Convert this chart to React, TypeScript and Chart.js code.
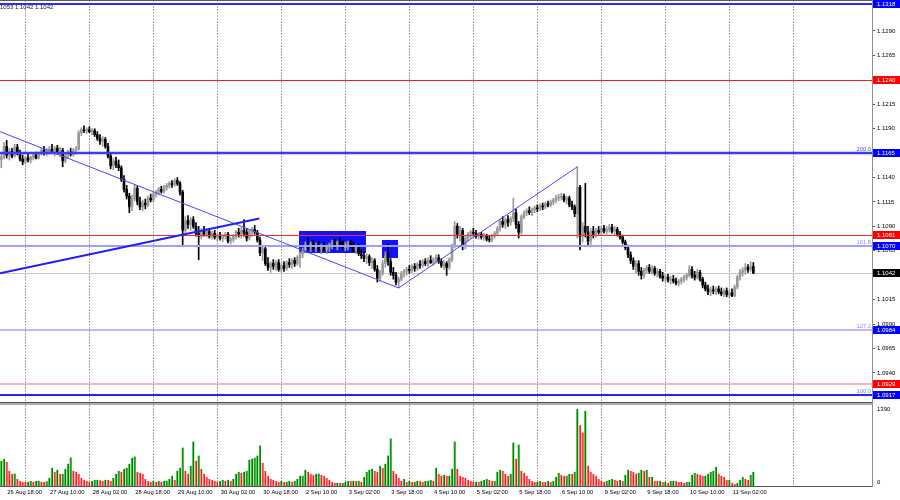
import React, { useEffect, useRef } from "react";
import { Chart, registerables } from "chart.js";

Chart.register(...registerables);

// Prices are stored in pips above 1.1000 (price = 1.1000 + pips * 0.0001)
const PRICE_BASE = 1.1;
const PIP = 0.0001;

const openPips = [
  158, 161, 172, 163, 167, 162, 171, 165, 159, 156,
  160, 158, 161, 163, 160, 165, 168, 165, 167, 169,
  166, 170, 166, 168, 157, 163, 166, 164, 168, 169,
  186, 189, 188, 189, 187, 188, 184, 180, 177, 179,
  172, 162, 152, 157, 153, 150, 138, 128, 121, 110,
  118, 129, 115, 110, 114, 112, 119, 117, 123, 125,
  128, 126, 130, 132, 134, 133, 137, 134, 125, 86,
  96, 92, 97, 90, 83, 80, 86, 82, 85, 80,
  83, 79, 81, 78, 80, 82, 75, 77, 80, 84,
  82, 86, 84, 78, 85, 87, 84, 76, 63, 67,
  52, 48, 52, 49, 53, 46, 50, 47, 53, 51,
  55, 52, 58, 62, 66, 71, 69, 72, 68, 70,
  67, 70, 66, 69, 71, 73, 70, 74, 72, 68,
  71, 73, 70, 66, 69, 62, 60, 57, 59, 53,
  55, 46, 37, 42, 52, 60, 54, 43, 40, 33,
  36, 42, 44, 46, 45, 49, 47, 51, 50, 54,
  52, 55, 53, 56, 58, 54, 50, 52, 48, 56,
  70, 90, 82, 86, 70, 78, 82, 84, 83, 80,
  82, 79, 80, 77, 76, 80, 83, 88, 95, 92,
  97, 94, 98, 104, 92, 84, 100, 104, 106, 104,
  107, 109, 108, 111, 110, 113, 112, 115, 117, 119,
  120, 121, 117, 119, 112, 110, 103, 130, 80, 90,
  84, 75, 85, 82, 86, 84, 88, 85, 87, 89,
  85, 87, 82, 79, 74, 68, 61, 55, 49, 52,
  44, 40, 45, 48, 44, 47, 42, 44, 39, 37,
  38, 35, 36, 34, 32, 34, 36, 38, 40, 46,
  40, 38, 43, 36, 30, 26, 23, 25, 24, 26,
  23, 21, 24, 20, 22, 19, 28, 38, 43, 45,
  48, 46, 49,
];
const highPips = [
  164, 176, 178, 170, 170, 174, 174, 168, 163, 162,
  164, 162, 165, 166, 166, 170, 172, 170, 172, 174,
  172, 173, 171, 170, 165, 168, 170, 170, 172, 188,
  191, 193, 191, 192, 190, 190, 187, 184, 182, 181,
  175, 165, 160, 161, 158, 152, 142, 132, 124, 122,
  133, 131, 120, 117, 118, 121, 123, 125, 127, 130,
  131, 132, 134, 136, 137, 139, 140, 136, 127, 100,
  101, 99, 100, 94, 90, 88, 90, 88, 88, 85,
  86, 83, 84, 82, 84, 84, 79, 82, 86, 88,
  89, 97, 88, 87, 89, 91, 86, 79, 70, 69,
  58, 54, 56, 55, 56, 52, 54, 55, 57, 57,
  58, 60, 64, 68, 74, 78, 74, 76, 73, 75,
  72, 74, 71, 73, 76, 77, 75, 78, 75, 74,
  75, 76, 74, 71, 72, 66, 64, 62, 61, 58,
  57, 50, 45, 55, 64, 72, 57, 48, 43, 38,
  44, 46, 48, 50, 51, 52, 53, 55, 56, 57,
  58, 60, 58, 61, 61, 57, 55, 54, 58, 72,
  95, 93, 90, 88, 80, 84, 86, 88, 86, 84,
  84, 83, 82, 80, 82, 85, 90, 97, 100, 99,
  101, 100, 119, 108, 95, 102, 106, 108, 110, 109,
  111, 112, 113, 114, 115, 116, 117, 119, 122, 123,
  124, 123, 121, 121, 116, 112, 151, 132, 94, 134,
  90, 88, 90, 88, 90, 90, 91, 90, 92, 92,
  90, 89, 85, 81, 76, 71, 64, 58, 55, 55,
  48, 47, 50, 51, 50, 49, 47, 46, 43, 41,
  41, 39, 40, 37, 36, 38, 40, 42, 50, 49,
  44, 46, 45, 38, 33, 30, 28, 29, 28, 29,
  27, 26, 27, 25, 26, 30, 40, 46, 48, 52,
  51, 54, 53,
];
const lowPips = [
  150, 159, 160, 158, 160, 161, 163, 157, 153, 154,
  156, 155, 158, 159, 159, 163, 163, 162, 164, 165,
  162, 164, 161, 151, 155, 160, 162, 162, 164, 168,
  183, 186, 185, 186, 184, 182, 178, 174, 172, 170,
  160, 149, 148, 150, 147, 136, 125, 118, 104, 106,
  116, 112, 107, 106, 108, 110, 115, 115, 120, 122,
  124, 124, 127, 129, 130, 131, 132, 122, 71, 82,
  88, 86, 88, 80, 56, 77, 80, 79, 78, 77,
  77, 75, 76, 74, 77, 73, 72, 74, 77, 79,
  78, 80, 75, 76, 80, 82, 74, 60, 55, 50,
  45, 43, 46, 45, 44, 43, 44, 45, 48, 47,
  49, 50, 48, 58, 63, 66, 64, 66, 64, 65,
  62, 65, 62, 64, 67, 68, 66, 70, 66, 65,
  66, 68, 64, 62, 60, 57, 54, 52, 50, 47,
  44, 33, 34, 40, 48, 50, 40, 36, 30, 27,
  34, 38, 40, 42, 43, 44, 45, 47, 48, 50,
  49, 52, 50, 53, 52, 48, 46, 40, 46, 54,
  68, 78, 75, 66, 67, 75, 78, 80, 78, 77,
  77, 76, 75, 74, 74, 78, 81, 85, 89, 88,
  90, 91, 95, 88, 78, 82, 98, 101, 102, 101,
  104, 105, 106, 107, 108, 110, 110, 112, 114, 116,
  117, 115, 113, 110, 107, 100, 78, 66, 74, 79,
  70, 69, 78, 79, 82, 81, 83, 82, 84, 83,
  81, 80, 77, 72, 66, 58, 52, 46, 42, 40,
  36, 37, 42, 42, 41, 40, 38, 37, 34, 33,
  33, 31, 32, 30, 29, 31, 33, 35, 38, 37,
  35, 36, 34, 27, 24, 20, 19, 21, 20, 21,
  19, 18, 18, 17, 18, 18, 26, 35, 39, 41,
  43, 44, 42,
];
const closePips = [
  161, 172, 163, 167, 162, 171, 165, 159, 156, 160,
  158, 161, 163, 160, 165, 168, 165, 167, 169, 166,
  170, 166, 168, 157, 163, 166, 164, 168, 169, 186,
  189, 188, 189, 187, 188, 184, 180, 177, 179, 172,
  162, 152, 157, 153, 150, 138, 128, 121, 110, 118,
  129, 115, 110, 114, 112, 119, 117, 123, 125, 128,
  126, 130, 132, 134, 133, 137, 134, 125, 86, 96,
  92, 97, 90, 83, 80, 86, 82, 85, 80, 83,
  79, 81, 78, 80, 82, 75, 77, 80, 84, 82,
  86, 84, 78, 85, 87, 84, 76, 63, 67, 52,
  48, 52, 49, 53, 46, 50, 47, 53, 51, 55,
  52, 58, 62, 66, 71, 69, 72, 68, 70, 67,
  70, 66, 69, 71, 73, 70, 74, 72, 68, 71,
  73, 70, 66, 69, 62, 60, 57, 59, 53, 55,
  46, 37, 42, 52, 60, 54, 43, 40, 33, 36,
  42, 44, 46, 45, 49, 47, 51, 50, 54, 52,
  55, 53, 56, 58, 54, 50, 52, 48, 56, 70,
  90, 82, 86, 70, 78, 82, 84, 83, 80, 82,
  79, 80, 77, 76, 80, 83, 88, 95, 92, 97,
  94, 98, 104, 92, 84, 100, 104, 106, 104, 107,
  109, 108, 111, 110, 113, 112, 115, 117, 119, 120,
  121, 117, 119, 112, 110, 103, 130, 80, 90, 84,
  75, 85, 82, 86, 84, 88, 85, 87, 89, 85,
  87, 82, 79, 74, 68, 61, 55, 49, 52, 44,
  40, 45, 48, 44, 47, 42, 44, 39, 37, 38,
  35, 36, 34, 32, 34, 36, 38, 40, 46, 40,
  38, 43, 36, 30, 26, 23, 25, 24, 26, 23,
  21, 24, 20, 22, 19, 28, 38, 43, 45, 48,
  46, 49, 42,
];
const volumes = [
  430, 462, 410, 258, 205, 212, 120, 88, 70, 66,
  72, 85, 68, 84, 90, 70, 66, 82, 138, 310,
  240, 276, 205, 208, 290, 378, 482, 258, 240, 205,
  137, 103, 86, 70, 85, 102, 106, 98, 88, 104,
  100, 86, 137, 206, 258, 240, 292, 310, 378, 480,
  498, 240, 224, 205, 120, 86, 68, 85, 70, 88,
  69, 86, 90, 120, 172, 103, 257, 310, 652, 257,
  206, 343, 755, 430, 515, 292, 206, 154, 120, 103,
  86, 70, 86, 103, 88, 104, 86, 120, 206, 240,
  223, 240, 257, 446, 463, 480, 515, 686, 395, 257,
  172, 120, 103, 86, 69, 86, 69, 72, 86, 70,
  86, 120, 172, 175, 275, 240, 206, 189, 206, 210,
  189, 172, 137, 103, 69, 51, 53, 50, 52, 69,
  86, 84, 88, 86, 87, 69, 154, 240, 275, 292,
  257, 240, 343, 309, 378, 515, 807, 257, 206, 137,
  86, 120, 69, 86, 69, 70, 86, 84, 69, 86,
  88, 103, 86, 309, 206, 172, 189, 172, 175, 292,
  755, 292, 172, 154, 137, 103, 86, 69, 70, 66,
  86, 103, 120, 103, 86, 88, 240, 275, 257, 206,
  172, 206, 738, 463, 704, 257, 223, 172, 120, 86,
  69, 70, 86, 69, 68, 86, 69, 86, 154, 223,
  189, 172, 175, 206, 205, 240, 1304, 1030, 909, 1270,
  343, 240, 206, 172, 120, 86, 69, 86, 103, 120,
  103, 86, 103, 86, 189, 275, 257, 240, 206, 223,
  275, 257, 275, 154, 155, 86, 84, 88, 69, 70,
  51, 86, 88, 86, 69, 68, 51, 69, 70, 189,
  223, 206, 189, 172, 175, 206, 240, 257, 326, 206,
  172, 154, 103, 105, 51, 34, 51, 103, 154, 120,
  103, 189, 240,
];

const timeLabels = [
  "26 Aug 02:00", "26 Aug 18:00", "27 Aug 10:00", "28 Aug 02:00", "28 Aug 18:00",
  "29 Aug 10:00", "30 Aug 02:00", "30 Aug 18:00", "2 Sep 10:00", "3 Sep 02:00",
  "3 Sep 18:00", "4 Sep 10:00", "5 Sep 02:00", "5 Sep 18:00", "6 Sep 10:00",
  "9 Sep 02:00", "9 Sep 18:00", "10 Sep 10:00", "11 Sep 02:00",
];
const priceTicks = [
  1.1315, 1.129, 1.1265, 1.124, 1.1215, 1.119, 1.1165, 1.114, 1.1115,
  1.109, 1.1065, 1.104, 1.1015, 1.099, 1.0965, 1.094, 1.0915,
];
const levelPrices = [1.1318, 1.124, 1.1165, 1.1081, 1.107, 1.1042, 1.0984, 1.0929, 1.0917];
const fibLabels = ["200.0", "161.8", "127.2", "100.0"];
const fibPrices = [1.1165, 1.107, 1.0984, 1.0917];
const volumeTicks = [1390, 0];
const headerText = "1053 1.1042 1.1042";
// trend lines: [bar index A, price A, bar index B, price B]
const trendLines = [
  [-0.5, 1.1187, 149, 1.1027],
  [149, 1.1027, 216, 1.1151],
  [-0.5, 1.1042, 96.75, 1.1098],
];
// zones: [bar index from, bar index to, price top, price bottom]
const zones = [
  [111.6, 136.7, 1.10853, 1.10628],
  [142.7, 148.7, 1.10761, 1.10577],
];

// ---- styles (kept apart from data) ----
const N_SLOTS = 327;
const FIRST_LABEL_BAR = -14;
const LABEL_STEP = 16;
const GRID_FIRST = 9;
const GRID_STEP = 24;
const GRID_COUNT = 13;
const PRICE_MIN = 1.091027;
const PRICE_MAX = 1.131968;
const VOL_MAX = 1424;
const FONT = "'Liberation Sans', Arial, sans-serif";
const BULL = "#9a9a9a";
const BEAR = "#000000";
const LEVEL_STYLE = [
  { color: "#2c2cff", width: 2, box: "#0000ff" },
  { color: "#ff2020", width: 1, box: "#ff0000" },
  { color: "#3c3cf8", width: 2.5, box: "#0000ff" },
  { color: "#ff2a2a", width: 1, box: "#ff0000" },
  { color: "#9f9fff", width: 2, box: "#0000ff" },
  { color: "#c8c8c8", width: 1, box: "#000000" },
  { color: "#a4a4ff", width: 1.5, box: "#0000ff" },
  { color: "#ff9c9c", width: 1.5, box: "#ff0000" },
  { color: "#2424ff", width: 2, box: "#0000ff" },
];
const FIB_COLORS = ["#4a4aff", "#8c8cff", "#8c8cff", "#7a7aff"];
const TREND_STYLE = [
  { color: "#4848ff", width: 1 },
  { color: "#4848ff", width: 1 },
  { color: "#1e1eff", width: 2 },
];
const ZONE_COLOR = "#1212ff";

const zeroPadFit = (size: { w?: number; h?: number }) => (s: any) => {
  if (size.w !== undefined) s.width = size.w;
  if (size.h !== undefined) s.height = size.h;
  s.paddingTop = 0;
  s.paddingBottom = 0;
  s.paddingLeft = 0;
  s.paddingRight = 0;
};

const mtPlugin = {
  id: "mt4look",
  beforeDatasetsDraw(chart: any) {
    const { ctx, chartArea } = chart;
    const xs = chart.scales.x;
    const ys = chart.scales.y;
    ctx.save();
    // dotted vertical grid
    ctx.strokeStyle = "#a4a4a4";
    ctx.lineWidth = 1;
    ctx.setLineDash([2, 1]);
    for (let k = 0; k < GRID_COUNT; k++) {
      const px = Math.round(xs.getPixelForValue(GRID_FIRST + k * GRID_STEP)) + 0.5;
      ctx.beginPath();
      ctx.moveTo(px, 0);
      ctx.lineTo(px, chartArea.bottom);
      ctx.stroke();
    }
    ctx.setLineDash([]);
    // rectangles (background objects)
    ctx.fillStyle = ZONE_COLOR;
    zones.forEach(([i0, i1, p0, p1]) => {
      const x0 = xs.getPixelForValue(i0);
      const x1 = xs.getPixelForValue(i1);
      const y0 = ys.getPixelForValue(p0);
      const y1 = ys.getPixelForValue(p1);
      ctx.fillRect(Math.round(x0), Math.round(y0), Math.round(x1 - x0), Math.round(y1 - y0));
    });
    // current price line (behind candles)
    const cy = Math.round(ys.getPixelForValue(levelPrices[5])) + 0.5;
    ctx.strokeStyle = LEVEL_STYLE[5].color;
    ctx.lineWidth = 1;
    ctx.beginPath();
    ctx.moveTo(chartArea.left, cy);
    ctx.lineTo(chartArea.right, cy);
    ctx.stroke();
    ctx.restore();
  },
  afterDatasetsDraw(chart: any) {
    const { ctx, chartArea } = chart;
    const xs = chart.scales.x;
    const ys = chart.scales.y;
    ctx.save();
    ctx.beginPath();
    ctx.rect(chartArea.left, ys.top, chartArea.right - chartArea.left, ys.bottom - ys.top);
    ctx.clip();
    // horizontal levels
    levelPrices.forEach((p, k) => {
      if (k === 5) return;
      const st = LEVEL_STYLE[k];
      let y = ys.getPixelForValue(p);
      y = st.width % 2 === 1 ? Math.round(y) + 0.5 : Math.round(y);
      ctx.strokeStyle = st.color;
      ctx.lineWidth = st.width;
      ctx.beginPath();
      ctx.moveTo(chartArea.left, y);
      ctx.lineTo(chartArea.right, y);
      ctx.stroke();
    });
    // trend lines
    trendLines.forEach(([i0, p0, i1, p1], k) => {
      ctx.strokeStyle = TREND_STYLE[k].color;
      ctx.lineWidth = TREND_STYLE[k].width;
      ctx.beginPath();
      ctx.moveTo(xs.getPixelForValue(i0), ys.getPixelForValue(p0));
      ctx.lineTo(xs.getPixelForValue(i1), ys.getPixelForValue(p1));
      ctx.stroke();
    });
    // fibo level captions
    ctx.font = `5.8px ${FONT}`;
    ctx.textAlign = "right";
    ctx.textBaseline = "bottom";
    fibLabels.forEach((t, k) => {
      ctx.fillStyle = FIB_COLORS[k];
      ctx.fillText(t, chartArea.right - 1, ys.getPixelForValue(fibPrices[k]) - 1);
    });
    ctx.restore();

    ctx.save();
    // top border
    ctx.fillStyle = "#5a5a5a";
    ctx.fillRect(0, 0, chart.width, 1);
    // separator between panes
    ctx.fillStyle = "#555555";
    ctx.fillRect(chartArea.left, ys.bottom, chartArea.right - chartArea.left, 1.5);
    ctx.fillStyle = "#b0b0b0";
    ctx.fillRect(chartArea.left, ys.bottom + 1.5, chartArea.right - chartArea.left, 1.5);
    // bottom axis line
    ctx.fillStyle = "#555555";
    ctx.fillRect(chartArea.left, chartArea.bottom, chartArea.right - chartArea.left + 1, 1);
    // right axis line
    ctx.fillStyle = "#909090";
    ctx.fillRect(chartArea.right, 0, 1, chartArea.bottom + 1);
    ctx.restore();
  },
  afterDraw(chart: any) {
    const { ctx, chartArea } = chart;
    const xs = chart.scales.x;
    const ys = chart.scales.y;
    const vs = chart.scales.y2;
    ctx.save();
    // price boxes
    ctx.font = `6px ${FONT}`;
    ctx.textAlign = "left";
    ctx.textBaseline = "middle";
    levelPrices.forEach((p, k) => {
      const y = Math.round(ys.getPixelForValue(p));
      ctx.fillStyle = LEVEL_STYLE[k].box;
      ctx.fillRect(chartArea.right + 1, y - 4, chart.width - chartArea.right - 1, 8);
      ctx.fillStyle = "#ffffff";
      ctx.fillText(p.toFixed(4), chartArea.right + 5, y + 0.5);
    });
    // volume scale labels
    ctx.fillStyle = "#000000";
    ctx.textBaseline = "top";
    ctx.fillText(String(volumeTicks[0]), chartArea.right + 5, vs.getPixelForValue(volumeTicks[0]) + 2);
    ctx.textBaseline = "bottom";
    ctx.fillText(String(volumeTicks[1]), chartArea.right + 5, vs.getPixelForValue(volumeTicks[1]) - 1);
    // time labels
    ctx.font = `5.8px ${FONT}`;
    ctx.textBaseline = "middle";
    ctx.textAlign = "left";
    timeLabels.forEach((t, k) => {
      const px = xs.getPixelForValue(FIRST_LABEL_BAR + k * LABEL_STEP) + 0.7;
      ctx.fillText(t, px, chartArea.bottom + 6.5);
    });
    // header
    ctx.font = `6px ${FONT}`;
    ctx.fillStyle = "#222222";
    ctx.fillText(headerText, 0, 7);
    ctx.restore();
  },
};

export default function App() {
  const ref = useRef<HTMLCanvasElement | null>(null);
  useEffect(() => {
    const canvas = ref.current;
    if (!canvas) return;
    const toPrice = (v: number) => PRICE_BASE + v * PIP;
    const slots = Array.from({ length: N_SLOTS }, (_, i) => String(i));
    const bodies = closePips.map((c, i) => [toPrice(openPips[i]), toPrice(c)]);
    const wicks = highPips.map((h, i) => [toPrice(lowPips[i]), toPrice(h)]);
    const candleColors = closePips.map((c, i) => (c >= openPips[i] ? BULL : BEAR));
    const volUp = volumes.map((v, i) => i === 0 || v > volumes[i - 1]);
    const volFill = volUp.map((u) => (u ? "#008200" : "#ff1e1e"));
    const volEdge = volUp.map((u) => (u ? "#55c855" : "#ff8a8a"));

    const chart = new Chart(canvas, {
      type: "bar",
      data: {
        labels: slots,
        datasets: [
          {
            data: bodies as any,
            yAxisID: "y",
            backgroundColor: candleColors,
            barThickness: 2,
            minBarLength: 1,
            grouped: false,
            order: 1,
          } as any,
          {
            data: wicks as any,
            yAxisID: "y",
            backgroundColor: candleColors,
            barThickness: 1,
            grouped: false,
            order: 2,
          } as any,
          {
            data: volumes,
            yAxisID: "y2",
            backgroundColor: volFill,
            borderColor: volEdge,
            borderWidth: { left: 1, right: 0, top: 0, bottom: 0 },
            barThickness: 2,
            grouped: false,
            order: 3,
          } as any,
        ],
      },
      options: {
        responsive: false,
        animation: false,
        devicePixelRatio: 1,
        events: [],
        layout: { padding: { top: 2, left: 0, right: 0, bottom: 0 } },
        plugins: { legend: { display: false }, tooltip: { enabled: false } },
        scales: {
          x: {
            type: "category",
            offset: true,
            grid: { display: false },
            border: { display: false },
            ticks: { display: false },
            afterFit: zeroPadFit({ h: 14 }),
          },
          y: {
            position: "right",
            stack: "panes",
            stackWeight: 400,
            min: PRICE_MIN,
            max: PRICE_MAX,
            afterBuildTicks: (s: any) => {
              s.ticks = priceTicks.map((value) => ({ value }));
            },
            ticks: {
              autoSkip: false,
              padding: 2,
              color: "#000000",
              font: { family: FONT, size: 6 },
              callback: (v: any) => Number(v).toFixed(4),
            },
            grid: { drawOnChartArea: false, drawTicks: true, tickLength: 3, color: "#555555" },
            border: { display: false },
            afterFit: zeroPadFit({ w: 28 }),
          },
          y2: {
            position: "right",
            stack: "panes",
            stackWeight: 84,
            min: 0,
            max: VOL_MAX,
            ticks: { display: false },
            grid: { display: false },
            border: { display: false },
            afterFit: zeroPadFit({ w: 28 }),
          },
        } as any,
      },
      plugins: [mtPlugin],
    });
    return () => chart.destroy();
  }, []);

  return (
    <div style={{ position: "absolute", left: 0, top: 0, width: 900, height: 500, background: "#ffffff" }}>
      <canvas ref={ref} width={900} height={500} style={{ display: "block" }} />
    </div>
  );
}
